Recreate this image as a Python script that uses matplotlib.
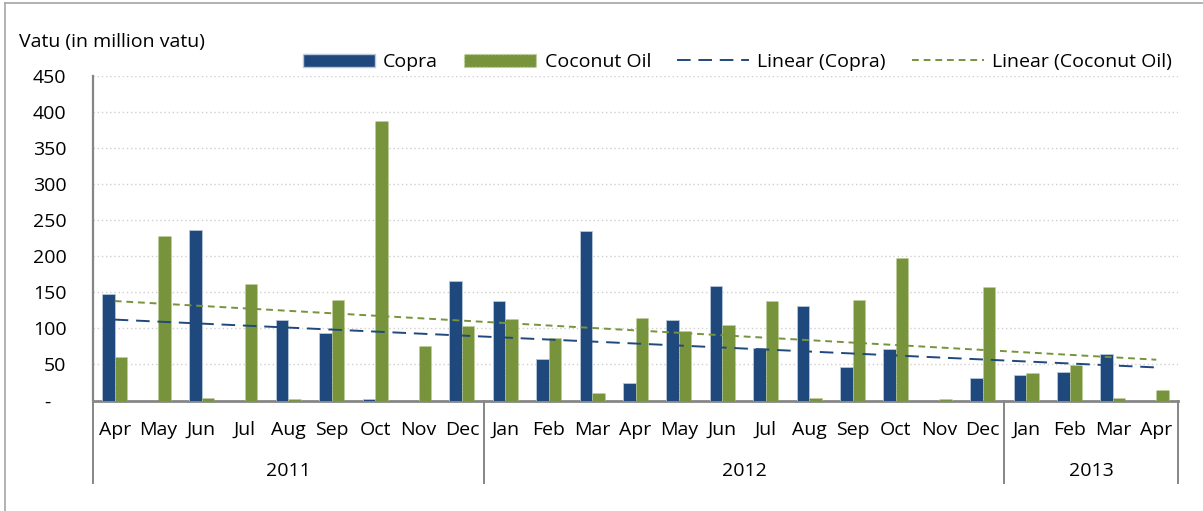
import numpy as np
import matplotlib
matplotlib.use("Agg")
import matplotlib.pyplot as plt
from matplotlib.lines import Line2D
from matplotlib.patches import Patch
from matplotlib.transforms import blended_transform_factory

plt.rcParams['font.family'] = ['Open Sans', 'DejaVu Sans']

# data
months = ['Apr', 'May', 'Jun', 'Jul', 'Aug', 'Sep', 'Oct', 'Nov', 'Dec',
          'Jan', 'Feb', 'Mar', 'Apr', 'May', 'Jun', 'Jul', 'Aug', 'Sep', 'Oct', 'Nov', 'Dec',
          'Jan', 'Feb', 'Mar', 'Apr']
years = ['2011', '2012', '2013']
year_counts = [9, 12, 4]
copra = [147, 0, 237, 0, 111, 93, 2, 0, 166,
         138, 58, 235, 24, 111, 159, 73, 131, 47, 71, 0, 31,
         36, 40, 65, 0]
coconut_oil = [60, 228, 4, 161, 2, 139, 388, 75, 104,
               113, 86, 11, 115, 97, 105, 138, 4, 139, 197, 2, 157,
               38, 49, 4, 15]

c_copra = '#1F497D'
c_oil = '#77933C'
fs = 14

fig = plt.figure(figsize=(12.03, 5.11), dpi=100)
ax = fig.add_axes([93/1203, 1 - 400.5/511, (1178-93)/1203, (400.5-76)/511])

x = np.arange(len(months))
w = 0.29
ax.bar(x - w/2, copra, w, color=c_copra, edgecolor='#B9C7DA', linewidth=0.6, zorder=3)
ax.bar(x + w/2, coconut_oil, w, color=c_oil, edgecolor='#C3D69B', linewidth=0.6,
       linestyle=':', zorder=3)

# linear trendlines
xx = x + 1
p1 = np.polyfit(xx, copra, 1)
p2 = np.polyfit(xx, coconut_oil, 1)
ax.plot(x, np.polyval(p1, xx), color=c_copra, lw=1.4, dashes=(7, 4), zorder=4)
ax.plot(x, np.polyval(p2, xx), color=c_oil, lw=1.4, dashes=(3.5, 2.5), zorder=4)

ax.set_xlim(-0.5, len(months) - 0.5)
ax.set_ylim(0, 450)
ax.set_yticks(range(0, 451, 50))
ax.set_yticklabels(['-   '] + [str(v) for v in range(50, 451, 50)], fontsize=fs)
ax.tick_params(axis='y', length=0, pad=19)
ax.set_xticks([])
for v in range(50, 451, 50):
    ax.axhline(v, color='#D0D0D0', lw=1, ls=(0, (1, 2)), zorder=1)

for s in ['top', 'right']:
    ax.spines[s].set_visible(False)
ax.spines['left'].set_color('#868686')
ax.spines['left'].set_linewidth(1.6)
ax.spines['bottom'].set_color('#868686')
ax.spines['bottom'].set_linewidth(2)

# category labels
tr = blended_transform_factory(ax.transData, ax.transAxes)
sep_bottom = -(483 - 400.5) / (400.5 - 76)
for i, m in enumerate(months):
    ax.text(i, -(430 - 400.5) / (400.5 - 76), m, transform=tr, ha='center', va='center', fontsize=fs)
start = 0
bounds = [-0.5]
for yr, n in zip(years, year_counts):
    ax.text(start + (n - 1) / 2, -(471 - 400.5) / (400.5 - 76), yr, transform=tr,
            ha='center', va='center', fontsize=fs)
    start += n
    bounds.append(start - 0.5)
for b in bounds:
    ax.add_line(Line2D([b, b], [0, sep_bottom], transform=tr, color='#868686', lw=1.4, clip_on=False))

fig.text(19/1203, 1 - 42/511, 'Vatu (in million vatu)', fontsize=fs, va='center', ha='left')

handles = [Patch(facecolor=c_copra, edgecolor='#B9C7DA'),
           Patch(facecolor=c_oil, edgecolor='#C3D69B', linestyle=':'),
           Line2D([], [], color=c_copra, lw=1.4, dashes=(7, 4)),
           Line2D([], [], color=c_oil, lw=1.4, dashes=(3.5, 2.5))]
labels = ['Copra', 'Coconut Oil', 'Linear (Copra)', 'Linear (Coconut Oil)']
fig.legend(handles, labels, ncol=4, loc='center right', bbox_to_anchor=(1172/1203, 1 - 62/511),
           frameon=False, fontsize=fs, handlelength=3.7, handleheight=0.65, handletextpad=0.42,
           columnspacing=1.35, borderaxespad=0, borderpad=0)

# outer chart border
fig.add_artist(Line2D([5/1203, 5/1203], [0, 1 - 3/511], transform=fig.transFigure, color='#A6A6A6', lw=1.2))
fig.add_artist(Line2D([5/1203, 1], [1 - 3/511, 1 - 3/511], transform=fig.transFigure, color='#A6A6A6', lw=1.2))

fig.savefig('out.png', dpi=100)
